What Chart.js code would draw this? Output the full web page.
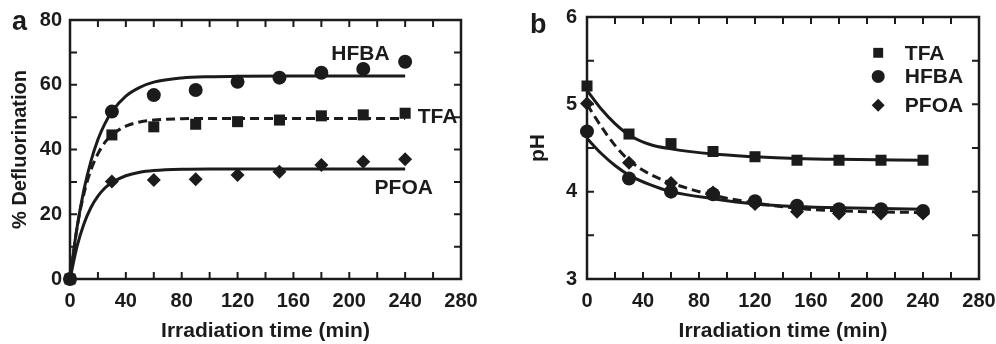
<!DOCTYPE html>
<html>
<head>
<meta charset="utf-8">
<script src="https://cdn.jsdelivr.net/npm/chart.js@4/dist/chart.umd.min.js"></script>
<style>
  html, body { margin: 0; padding: 0; background: #fff; }
  #wrap { position: relative; width: 996px; height: 344px; overflow: hidden; }
  canvas { position: absolute; top: 0; }
</style>
</head>
<body>
<div id="wrap">
  <canvas id="chartA" width="498" height="344" style="left:0"></canvas>
  <canvas id="chartB" width="498" height="344" style="left:498px"></canvas>
</div>
<script>
// measured points (irradiation time, min)
const sampleTimes = [0, 30, 60, 90, 120, 150, 180, 210, 240];

// panel a: % defluorination
const hfbaDefl = [0, 51.7, 56.8, 58.4, 60.9, 62.2, 63.7, 64.9, 67.1];
const tfaDefl  = [0, 44.5, 47.0, 47.8, 48.6, 49.1, 50.4, 50.7, 51.2];
const pfoaDefl = [0, 30.1, 30.6, 30.8, 32.1, 33.1, 35.2, 36.2, 37.0];

// panel a: fitted curves
const fitTimesA = [0, 5, 10, 15, 20, 25, 30, 40, 50, 60, 80, 100, 120, 160, 200, 240];
const hfbaFitA = [0, 15.8, 27.6, 36.4, 43.1, 48.0, 51.7, 56.5, 59.2, 60.8, 62.1, 62.5, 62.6, 62.7, 62.7, 62.7];
const tfaFitA  = [0, 15.7, 26.4, 33.7, 38.7, 42.2, 44.5, 47.2, 48.5, 49.1, 49.5, 49.6, 49.6, 49.6, 49.6, 49.6];
const pfoaFitA = [0, 10.0, 17.1, 22.1, 25.6, 28.1, 29.8, 31.9, 33.0, 33.5, 33.9, 34.0, 34.0, 34.0, 34.0, 34.0];

// panel b: pH
const tfaPH  = [5.21, 4.66, 4.55, 4.46, 4.40, 4.36, 4.36, 4.36, 4.36];
const hfbaPH = [4.69, 4.15, 4.00, 3.97, 3.89, 3.84, 3.80, 3.80, 3.78];
const pfoaPH = [5.01, 4.33, 4.10, 3.99, 3.86, 3.77, 3.75, 3.75, 3.75];

// panel b: fitted curves
const fitTimesB = [0, 10, 20, 30, 45, 60, 90, 120, 150, 180, 240];
const tfaFitB  = [5.16, 4.95, 4.78, 4.65, 4.54, 4.49, 4.43, 4.40, 4.38, 4.37, 4.36];
const hfbaFitB = [4.61, 4.44, 4.30, 4.19, 4.08, 4.00, 3.92, 3.86, 3.83, 3.815, 3.80];
const pfoaFitB = [5.00, 4.75, 4.53, 4.36, 4.20, 4.10, 3.96, 3.87, 3.81, 3.78, 3.76];

const FONT = '"Liberation Sans", Arial, Helvetica, sans-serif';
const INK = '#1b1b1b';

Chart.defaults.font.family = FONT;
Chart.defaults.font.weight = 'bold';
Chart.defaults.color = INK;

function pts(xs, ys) {
    return xs.map((x, i) => ({ x: x, y: ys[i] }));
}

function markers(label, ys, style, r) {
    return {
        label: label,
        data: pts(sampleTimes, ys),
        pointStyle: style,
        pointRadius: r,
        backgroundColor: INK,
        borderWidth: 0,
        showLine: false,
        clip: false
    };
}

function curve(xs, ys, dash) {
    return {
        data: pts(xs, ys),
        showLine: true,
        borderColor: INK,
        borderWidth: 3,
        borderDash: dash || [],
        pointRadius: 0,
        cubicInterpolationMode: 'monotone',
        fill: false,
        clip: false
    };
}

// box round the plot with inward ticks on all four sides
const framePlugin = {
    id: 'frame',
    beforeDatasetsDraw(chart, args, opts) {
        const ctx = chart.ctx;
        const a = chart.chartArea;
        const xs = chart.scales.x, ys = chart.scales.y;
        ctx.save();
        ctx.strokeStyle = INK;
        ctx.lineWidth = 2.5;
        ctx.strokeRect(a.left, a.top, a.right - a.left, a.bottom - a.top);
        ctx.lineWidth = 2;
        const len = 7;
        ctx.beginPath();
        for (let v = xs.min + opts.xStep; v < xs.max - 1e-9; v += opts.xStep) {
            const px = xs.getPixelForValue(v);
            ctx.moveTo(px, a.bottom); ctx.lineTo(px, a.bottom - len);
            ctx.moveTo(px, a.top); ctx.lineTo(px, a.top + len);
        }
        for (let v = ys.min + opts.yStep; v < ys.max - 1e-9; v += opts.yStep) {
            const py = ys.getPixelForValue(v);
            ctx.moveTo(a.left, py); ctx.lineTo(a.left + len, py);
            ctx.moveTo(a.right, py); ctx.lineTo(a.right - len, py);
        }
        ctx.stroke();
        ctx.restore();
    },
    afterDraw(chart, args, opts) {
        const ctx = chart.ctx;
        ctx.save();
        ctx.fillStyle = INK;
        ctx.textBaseline = 'alphabetic';
        ctx.textAlign = 'left';
        ctx.font = 'bold 27px ' + FONT;
        ctx.fillText(opts.letter, opts.letterX, opts.letterY);

        ctx.font = 'bold 21px ' + FONT;
        ctx.textBaseline = 'middle';
        const xs = chart.scales.x, ys = chart.scales.y;
        (opts.labels || []).forEach(function(l) {
            ctx.textAlign = l.align;
            ctx.fillText(l.text, xs.getPixelForValue(l.x), ys.getPixelForValue(l.y));
        });
        (opts.legend || []).forEach(function(l) {
            const mx = xs.getPixelForValue(l.mx), my = ys.getPixelForValue(l.y);
            Chart.helpers.drawPoint(ctx, { pointStyle: l.style, radius: l.r, rotation: 0, borderWidth: 0 }, mx, my);
            ctx.textAlign = 'left';
            ctx.fillText(l.text, xs.getPixelForValue(l.tx), my + 1);
        });
        ctx.restore();
    }
};

function axisX(titleText) {
    return {
        type: 'linear', min: 0, max: 280,
        afterFit(s) { s.height = 65; s.paddingLeft = 0; s.paddingRight = 0; },
        ticks: { stepSize: 40, padding: 10, font: { size: 20, weight: 'bold' }, color: INK },
        grid: { display: false, drawTicks: false },
        border: { display: false },
        title: { display: true, text: titleText, color: INK,
                 font: { size: 21, weight: 'bold' }, padding: { top: 0, bottom: 0 } }
    };
}

function axisY(min, max, step, width, labelPad, titleText, titlePad, titleSize) {
    return {
        type: 'linear', min: min, max: max,
        afterFit(s) { s.width = width; s.paddingTop = 0; s.paddingBottom = 0; },
        ticks: { stepSize: step, padding: labelPad, font: { size: 20, weight: 'bold' }, color: INK },
        grid: { display: false, drawTicks: false },
        border: { display: false },
        title: { display: true, text: titleText, color: INK,
                 font: { size: titleSize, weight: 'bold' }, padding: { top: titlePad, bottom: 0 } }
    };
}

new Chart(document.getElementById('chartA'), {
    type: 'scatter',
    data: {
        datasets: [
            markers('HFBA', hfbaDefl, 'circle', 7),
            markers('TFA', tfaDefl, 'rect', 7.8),
            markers('PFOA', pfoaDefl, 'rectRot', 7),
            curve(fitTimesA, hfbaFitA),
            curve(fitTimesA, tfaFitA, [9, 5]),
            curve(fitTimesA, pfoaFitA)
        ]
    },
    options: {
        responsive: false,
        animation: false,
        events: [],
        layout: { padding: { top: 20, right: 37, bottom: 0, left: 0 } },
        scales: {
            x: axisX('Irradiation time (min)'),
            y: axisY(0, 80, 20, 70, 8, '% Defluorination', 8, 20)
        },
        plugins: {
            legend: { display: false },
            tooltip: { enabled: false },
            frame: {
                xStep: 20, yStep: 10,
                letter: 'a', letterX: 12, letterY: 30,
                labels: [
                    { text: 'HFBA', x: 208, y: 69.3, align: 'center' },
                    { text: 'TFA', x: 249, y: 50.1, align: 'left' },
                    { text: 'PFOA', x: 239, y: 28.1, align: 'center' }
                ]
            }
        }
    },
    plugins: [framePlugin]
});

new Chart(document.getElementById('chartB'), {
    type: 'scatter',
    data: {
        datasets: [
            markers('TFA', tfaPH, 'rect', 7.8),
            markers('HFBA', hfbaPH, 'circle', 7),
            markers('PFOA', pfoaPH, 'rectRot', 7),
            curve(fitTimesB, tfaFitB),
            curve(fitTimesB, hfbaFitB),
            curve(fitTimesB, pfoaFitB, [9, 5])
        ]
    },
    options: {
        responsive: false,
        animation: false,
        events: [],
        layout: { padding: { top: 17, right: 17, bottom: 0, left: 0 } },
        scales: {
            x: axisX('Irradiation time (min)'),
            y: axisY(3, 6, 1, 89, 10, 'pH', 28, 21)
        },
        plugins: {
            legend: { display: false },
            tooltip: { enabled: false },
            frame: {
                xStep: 20, yStep: 0.5,
                letter: 'b', letterX: 32, letterY: 33,
                legend: [
                    { text: 'TFA', style: 'rect', r: 7, mx: 208, tx: 227, y: 5.59 },
                    { text: 'HFBA', style: 'circle', r: 6.5, mx: 208, tx: 227, y: 5.32 },
                    { text: 'PFOA', style: 'rectRot', r: 6.5, mx: 208, tx: 227, y: 4.99 }
                ]
            }
        }
    },
    plugins: [framePlugin]
});
</script>
</body>
</html>
